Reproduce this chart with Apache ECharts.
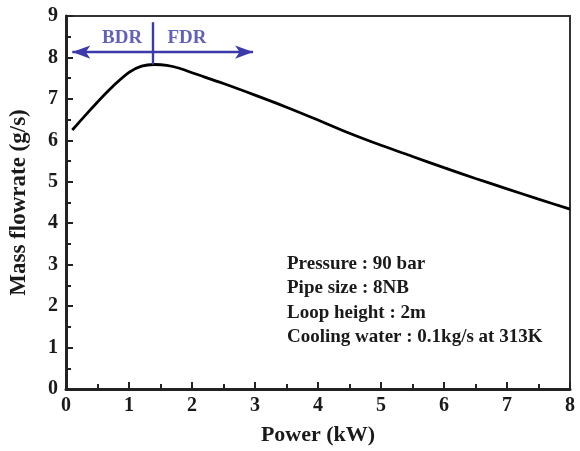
<!DOCTYPE html>
<html>
<head>
<meta charset="utf-8">
<script src="https://cdn.jsdelivr.net/npm/echarts@6/dist/echarts.min.js"></script>
<style>html,body{margin:0;padding:0;background:#fff}#c{width:580px;height:451px}</style>
</head>
<body>
<div id="c"></div>
<script>
const powerKW = [0.1, 0.4, 0.7, 1.0, 1.2, 1.4, 1.6, 1.8, 2.0, 2.5, 3.0, 3.5, 4.0, 4.5, 5.0, 5.5, 6.0, 6.5, 7.0, 7.5, 8.0];
const flowGs  = [6.25, 6.76, 7.24, 7.64, 7.79, 7.83, 7.81, 7.74, 7.63, 7.37, 7.09, 6.80, 6.49, 6.17, 5.88, 5.61, 5.34, 5.08, 4.83, 4.58, 4.34];
const regionLabels = ['BDR', 'FDR'];
const regionLabelX = [0.89, 1.92];
const regionLabelY = 8.47;
const arrowSpanX = [0.1, 2.97];
const arrowY = 8.13;
const dividerX = 1.38;
const dividerY = [8.85, 7.83];
const notes = ['Pressure : 90 bar', 'Pipe size : 8NB', 'Loop height : 2m', 'Cooling water : 0.1kg/s at 313K'];

const serif = '"Liberation Serif", "DejaVu Serif", serif';
const blue = '#3a3aaa';
const chart = echarts.init(document.getElementById('c'));
chart.setOption({
  animation: false,
  grid: { left: 66, right: 10, top: 16, bottom: 60, show: true, borderColor: '#333', borderWidth: 2, backgroundColor: 'transparent' },
  xAxis: {
    type: 'value', min: 0, max: 8, interval: 1,
    name: 'Power (kW)', nameLocation: 'middle', nameGap: 35,
    nameTextStyle: { fontFamily: serif, fontWeight: 'bold', fontSize: 22, color: '#1a1a1a' },
    axisLine: { show: true, onZero: false, lineStyle: { color: '#222', width: 3 } },
    axisTick: { show: true, inside: true, length: 7, lineStyle: { color: '#222', width: 2 } },
    minorTick: { show: true, splitNumber: 2, length: 5, lineStyle: { color: '#222', width: 2 } },
    axisLabel: { fontFamily: serif, fontWeight: 'bold', fontSize: 20, color: '#1a1a1a', margin: 7 },
    splitLine: { show: false }
  },
  yAxis: {
    type: 'value', min: 0, max: 9, interval: 1,
    name: 'Mass flowrate (g/s)', nameLocation: 'middle', nameGap: 35,
    nameTextStyle: { fontFamily: serif, fontWeight: 'bold', fontSize: 23, color: '#1a1a1a' },
    axisLine: { show: true, onZero: false, lineStyle: { color: '#222', width: 3 } },
    axisTick: { show: true, inside: true, length: 7, lineStyle: { color: '#222', width: 2 } },
    minorTick: { show: true, splitNumber: 2, length: 5, lineStyle: { color: '#222', width: 2 } },
    axisLabel: { fontFamily: serif, fontWeight: 'bold', fontSize: 20, color: '#1a1a1a', margin: 8 },
    splitLine: { show: false }
  },
  series: [
    {
      type: 'line', data: powerKW.map((x, i) => [x, flowGs[i]]),
      smooth: 0.3, showSymbol: false, symbol: 'none',
      lineStyle: { color: '#000', width: 2.8 },
      z: 3,
      markLine: {
        silent: true, animation: false,
        label: { show: false },
        data: [
          [ { coord: [arrowSpanX[0], arrowY], symbol: 'arrow', symbolSize: [10, 18] },
            { coord: [arrowSpanX[1], arrowY], symbol: 'arrow', symbolSize: [10, 18] } ],
          [ { coord: [dividerX, dividerY[0]], symbol: 'none' },
            { coord: [dividerX, dividerY[1]], symbol: 'none' } ]
        ],
        lineStyle: { color: blue, width: 2.4, type: 'solid' }
      }
    },
    {
      type: 'scatter', symbolSize: 0, silent: true,
      data: regionLabels.map((t, i) => ({ value: [regionLabelX[i], regionLabelY], name: t })),
      label: { show: true, position: 'inside', formatter: p => p.name, fontFamily: serif, fontWeight: 'bold', fontSize: 19, color: blue }
    }
  ],
  graphic: [{
    type: 'text', left: 287, top: 252,
    style: { text: notes.join('\n'), fontFamily: serif, fontWeight: 'bold', fontSize: 19, lineHeight: 24.3, fill: '#1a1a1a' }
  }]
});
</script>
</body>
</html>
